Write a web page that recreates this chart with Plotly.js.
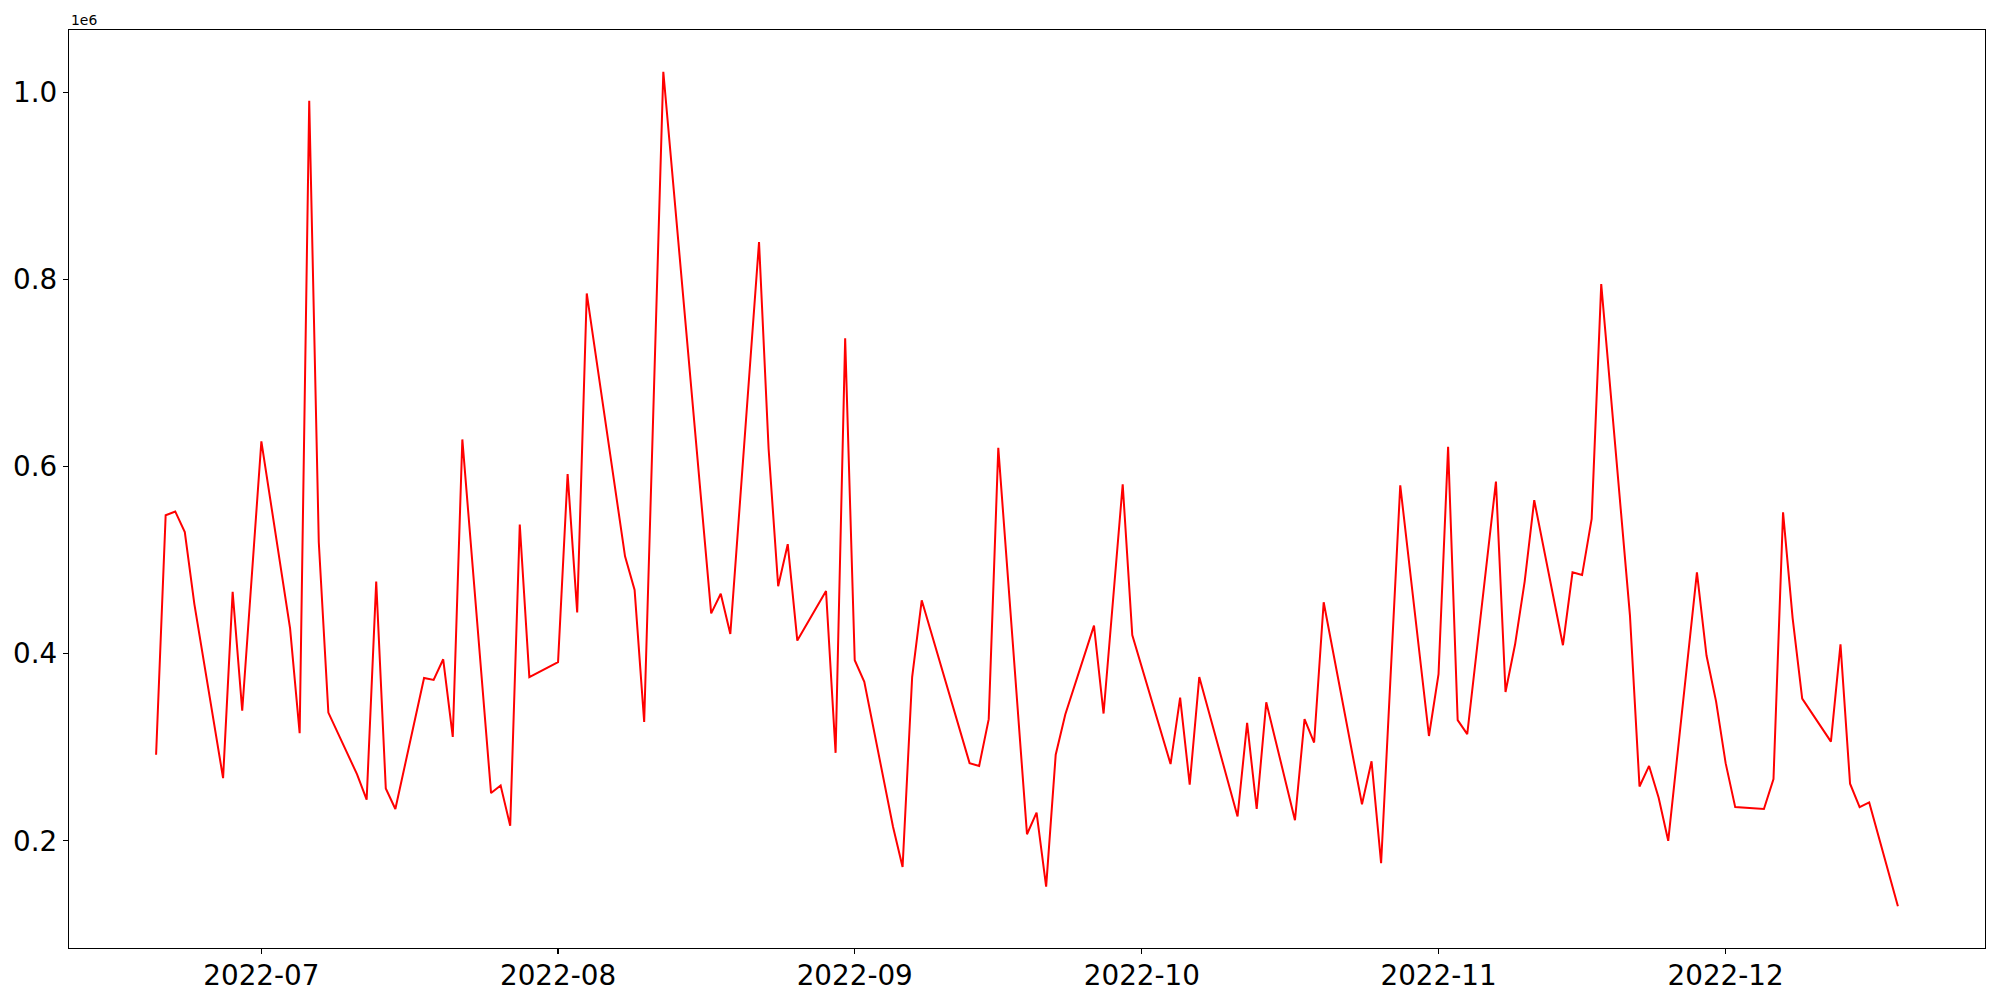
<!DOCTYPE html>
<html>
<head>
<meta charset="utf-8">
<script src="https://cdn.plot.ly/plotly-3.0.1.min.js"></script>
<style>
  html, body { margin: 0; padding: 0; background: #ffffff; }
  #chart { width: 2000px; height: 1000px; }
</style>
</head>
<body>
<div id="chart"></div>
<script>
// ---- data ----
const dates = [
  "2022-06-20","2022-06-21","2022-06-22","2022-06-23","2022-06-24",
  "2022-06-27","2022-06-28","2022-06-29","2022-07-01",
  "2022-07-04","2022-07-05","2022-07-06","2022-07-07","2022-07-08",
  "2022-07-11","2022-07-12","2022-07-13","2022-07-14","2022-07-15",
  "2022-07-18","2022-07-19","2022-07-20","2022-07-21","2022-07-22",
  "2022-07-25","2022-07-26","2022-07-27","2022-07-28","2022-07-29",
  "2022-08-01","2022-08-02","2022-08-03","2022-08-04",
  "2022-08-08","2022-08-09","2022-08-10","2022-08-12",
  "2022-08-17","2022-08-18","2022-08-19",
  "2022-08-22","2022-08-23","2022-08-24","2022-08-25","2022-08-26",
  "2022-08-29","2022-08-30","2022-08-31","2022-09-01","2022-09-02",
  "2022-09-05","2022-09-06","2022-09-07","2022-09-08",
  "2022-09-13","2022-09-14","2022-09-15","2022-09-16",
  "2022-09-19","2022-09-20","2022-09-21","2022-09-22","2022-09-23",
  "2022-09-26","2022-09-27","2022-09-29","2022-09-30",
  "2022-10-04","2022-10-05","2022-10-06","2022-10-07",
  "2022-10-11","2022-10-12","2022-10-13","2022-10-14",
  "2022-10-17","2022-10-18","2022-10-19","2022-10-20",
  "2022-10-24","2022-10-25","2022-10-26","2022-10-28",
  "2022-10-31","2022-11-01","2022-11-02","2022-11-03","2022-11-04",
  "2022-11-07","2022-11-08","2022-11-09","2022-11-10","2022-11-11",
  "2022-11-14","2022-11-15","2022-11-16","2022-11-17","2022-11-18",
  "2022-11-21","2022-11-22","2022-11-23","2022-11-24","2022-11-25",
  "2022-11-28","2022-11-29","2022-11-30","2022-12-01","2022-12-02",
  "2022-12-05","2022-12-06","2022-12-07","2022-12-08","2022-12-09",
  "2022-12-12","2022-12-13","2022-12-14","2022-12-15","2022-12-16",
  "2022-12-19"
];
const values = [
  292000, 548000, 552000, 530000, 453000,
  267000, 466000, 339000, 627000,
  427000, 315000, 991000, 519000, 337000,
  271000, 244000, 477000, 256000, 234000,
  374000, 372000, 394000, 311000, 629000,
  251000, 259000, 216000, 538000, 375000,
  391000, 592000, 444000, 785000,
  504000, 468000, 327000, 1022000,
  443000, 464000, 421000,
  840000, 619000, 472000, 517000, 414000,
  467000, 294000, 737000, 393000, 370000,
  215000, 172000, 375000, 457000,
  283000, 280000, 330000, 620000,
  207000, 230000, 151000, 292000, 335000,
  430000, 336000, 581000, 420000,
  282000, 353000, 260000, 375000,
  226000, 326000, 234000, 348000,
  222000, 330000, 305000, 455000,
  239000, 285000, 176000, 580000,
  312000, 378000, 621000, 329000, 314000,
  584000, 359000, 410000, 477000, 564000,
  409000, 487000, 484000, 544000, 795000,
  441000, 258000, 280000, 246000, 200000,
  487000, 398000, 349000, 283000, 236000,
  234000, 266000, 551000, 438000, 352000,
  306000, 410000, 261000, 236000, 241000,
  130000
];
const yTickVals = [200000, 400000, 600000, 800000, 1000000];
const yTickText = ["0.2", "0.4", "0.6", "0.8", "1.0"];
const xTickVals = ["2022-07-01","2022-08-01","2022-09-01","2022-10-01","2022-11-01","2022-12-01"];
const xTickText = ["2022-07","2022-08","2022-09","2022-10","2022-11","2022-12"];
const offsetLabel = "1e6";

// ---- axis ranges with 5% margins (matplotlib style) ----
const tms = dates.map(d => Date.parse(d + "T00:00:00Z"));
const tMin = Math.min(...tms), tMax = Math.max(...tms);
const tPad = (tMax - tMin) * 0.05;
const fmt = ms => new Date(ms).toISOString().replace("T", " ").replace("Z", "");
const vMin = Math.min(...values), vMax = Math.max(...values);
const vPad = (vMax - vMin) * 0.05;

const FONT = "DejaVu Sans, sans-serif";

const trace = {
  x: dates,
  y: values,
  type: "scatter",
  mode: "lines",
  line: { color: "#ff0000", width: 2 },
  hoverinfo: "x+y"
};

const layout = {
  width: 2000,
  height: 1000,
  margin: { l: 69, r: 15, t: 30, b: 52, pad: 0 },
  paper_bgcolor: "#ffffff",
  plot_bgcolor: "#ffffff",
  showlegend: false,
  font: { family: FONT, color: "#000000", size: 27.8 },
  xaxis: {
    type: "date",
    range: [fmt(tMin - tPad), fmt(tMax + tPad)],
    tickmode: "array",
    tickvals: xTickVals,
    ticktext: xTickText,
    showgrid: false,
    zeroline: false,
    showline: true,
    mirror: true,
    linecolor: "#000000",
    linewidth: 1.2,
    ticks: "outside",
    ticklen: 5,
    tickwidth: 1.1,
    tickcolor: "#000000",
    ticklabelstandoff: -3,
    tickfont: { family: FONT, size: 27.8, color: "#000000" },
    title: { text: "" }
  },
  yaxis: {
    range: [vMin - vPad, vMax + vPad],
    tickmode: "array",
    tickvals: yTickVals,
    ticktext: yTickText,
    showgrid: false,
    zeroline: false,
    showline: true,
    mirror: true,
    linecolor: "#000000",
    linewidth: 1.2,
    ticks: "outside",
    ticklen: 5,
    tickwidth: 1.1,
    tickcolor: "#000000",
    tickfont: { family: FONT, size: 27.8, color: "#000000" },
    title: { text: "" }
  },
  annotations: [{
    text: offsetLabel,
    xref: "paper", yref: "paper",
    x: 0, y: 1,
    xanchor: "left", yanchor: "bottom",
    showarrow: false,
    yshift: 0,
    font: { family: FONT, size: 13.9, color: "#000000" }
  }]
};

Plotly.newPlot("chart", [trace], layout, { displayModeBar: false, staticPlot: true });
</script>
</body>
</html>
